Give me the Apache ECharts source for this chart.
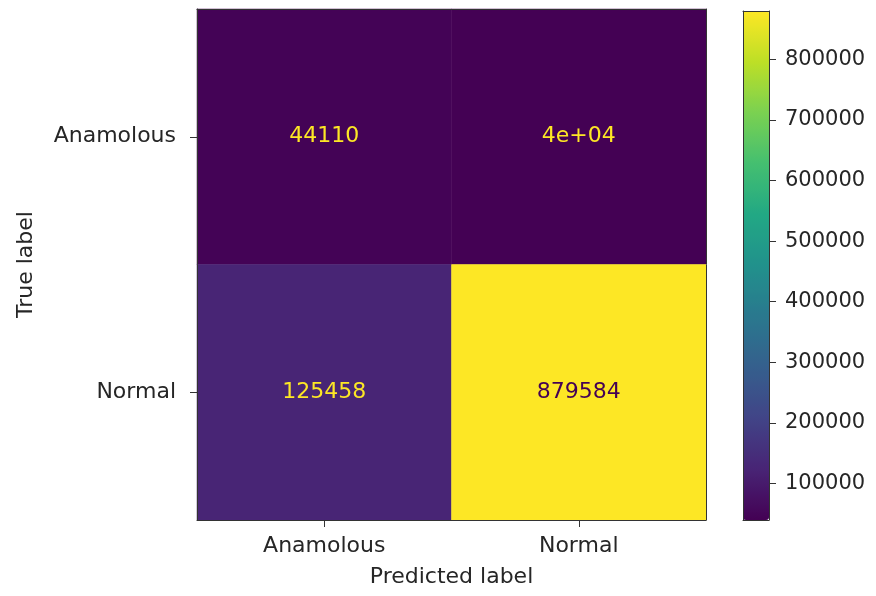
<!DOCTYPE html>
<html>
<head>
<meta charset="utf-8">
<script src="https://cdn.jsdelivr.net/npm/echarts@6/dist/echarts.min.js"></script>
<style>
html,body{margin:0;padding:0;background:#fff;}
#chart{width:876px;height:596px;}
</style>
</head>
<body>
<div id="chart"></div>
<script>
// ---- data ----
const predictedLabels = ['Anamolous', 'Normal'];
const trueLabels = ['Anamolous', 'Normal'];
const rowAnamolous = [44110, 40000];
const rowNormal = [125458, 879584];
const colorbarTicks = [100000, 200000, 300000, 400000, 500000, 600000, 700000, 800000];

const viridis = ['#440154','#482475','#414487','#355f8d','#2a788e','#21918c','#22a884','#44bf70','#7ad151','#bddf26','#fde725'];
const FONT = 'DejaVu Sans';
const TXT = '#262626';
const FS = 22;

const rows = [rowAnamolous, rowNormal];
const allVals = rows.flat();
const vMin = Math.min(...allVals);
const vMax = Math.max(...allVals);
const thresh = (vMin + vMax) / 2;

// sklearn ConfusionMatrixDisplay formatting: '.2g' unless 'd' is shorter
function fmtG2(v) {
  const e = v.toExponential(1); // e.g. "4.0e+4"
  let [mant, ex] = e.split('e');
  const exp = parseInt(ex, 10);
  if (exp < -4 || exp >= 2) {
    mant = mant.replace(/\.?0+$/, '');
    const sign = exp < 0 ? '-' : '+';
    const a = Math.abs(exp);
    return mant + 'e' + sign + (a < 10 ? '0' + a : String(a));
  }
  return String(Number(v.toPrecision(2)));
}
function fmtCell(v) {
  const g = fmtG2(v);
  const d = String(Math.round(v));
  return d.length < g.length ? d : g;
}

const heatData = [];
rows.forEach((row, yi) => {
  row.forEach((v, xi) => {
    heatData.push({
      value: [xi, yi, v],
      label: { color: v < thresh ? viridis[viridis.length - 1] : viridis[0] }
    });
  });
});

const chart = echarts.init(document.getElementById('chart'));
const lineStyle = { color: '#333', width: 1 };
const line = { show: true, onZero: false, lineStyle };
const hidden = { axisTick: { show: false }, axisLabel: { show: false }, splitLine: { show: false } };

chart.setOption({
  backgroundColor: '#fff',
  animation: false,
  textStyle: { fontFamily: FONT },
  grid: [
    { left: 197, top: 9, width: 509, height: 511 },
    { left: 743, top: 11, width: 26, height: 509 }
  ],
  xAxis: [
    {
      gridIndex: 0, type: 'category', data: predictedLabels, position: 'bottom', z: 10,
      axisLine: line,
      axisTick: { show: true, alignWithLabel: true, length: 7, lineStyle },
      axisLabel: { fontSize: FS, color: TXT, margin: 15, fontFamily: FONT },
      splitLine: { show: false },
      name: 'Predicted label', nameLocation: 'middle', nameGap: 46,
      nameTextStyle: { fontSize: FS, color: TXT, fontFamily: FONT }
    },
    Object.assign({
      gridIndex: 0, type: 'category', data: predictedLabels, position: 'top', z: 10,
      axisLine: line
    }, hidden),
    Object.assign({
      gridIndex: 1, type: 'value', min: 0, max: 1, position: 'bottom', z: 10,
      axisLine: line
    }, hidden),
    Object.assign({
      gridIndex: 1, type: 'value', min: 0, max: 1, position: 'top', z: 10,
      axisLine: line
    }, hidden)
  ],
  yAxis: [
    {
      gridIndex: 0, type: 'category', data: trueLabels, inverse: true, position: 'left', z: 10,
      axisLine: line,
      axisTick: { show: true, alignWithLabel: true, length: 7, lineStyle },
      axisLabel: { fontSize: FS, color: TXT, margin: 21, fontFamily: FONT },
      splitLine: { show: false },
      name: 'True label', nameLocation: 'middle', nameGap: 160, nameRotate: 90,
      nameTextStyle: { fontSize: FS, color: TXT, fontFamily: FONT }
    },
    Object.assign({
      gridIndex: 0, type: 'category', data: trueLabels, inverse: true, position: 'right', z: 10,
      axisLine: line
    }, hidden),
    {
      gridIndex: 1, type: 'value', min: vMin, max: vMax, position: 'right', z: 10,
      axisLine: line,
      axisTick: { show: true, inside: false, length: 7, lineStyle, customValues: colorbarTicks },
      axisLabel: { fontSize: 21, color: TXT, margin: 16, fontFamily: FONT, customValues: colorbarTicks,
        formatter: v => String(v) },
      splitLine: { show: false }
    },
    Object.assign({
      gridIndex: 1, type: 'value', min: vMin, max: vMax, position: 'left', z: 10,
      axisLine: line
    }, hidden)
  ],
  visualMap: {
    type: 'continuous',
    seriesIndex: 0,
    min: vMin, max: vMax,
    calculable: false,
    orient: 'vertical',
    left: 743, top: 11,
    itemWidth: 26, itemHeight: 509,
    padding: 0,
    text: null,
    hoverLink: false,
    inRange: { color: viridis }
  },
  series: [{
    type: 'heatmap',
    xAxisIndex: 0, yAxisIndex: 0,
    data: heatData,
    label: {
      show: true, fontSize: FS, fontFamily: FONT,
      formatter: p => fmtCell(p.value[2])
    },
    itemStyle: { borderWidth: 0 },
    emphasis: { disabled: true }
  }]
});
</script>
</body>
</html>
